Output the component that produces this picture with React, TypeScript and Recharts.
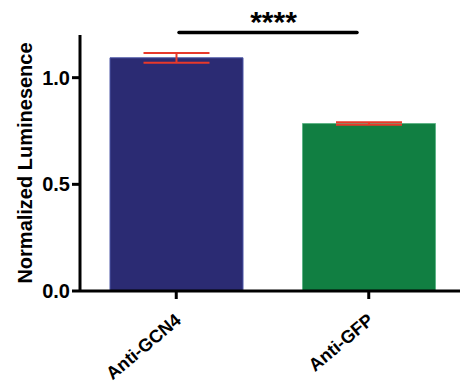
import { BarChart, Bar, XAxis, YAxis, ErrorBar, Cell } from 'recharts';

const groups = ['Anti-GCN4', 'Anti-GFP'];
const means = [1.093, 0.785];
const sems = [0.023, 0.006];
const yTicks = [0, 0.5, 1.0];
const barColors = ['#2b2b73', '#117f42'];
const barEdges = ['#4d56a6', '#5fb487'];

const data = groups.map((g, i) => ({ name: g, value: means[i], err: sems[i] }));

const font = 'Arial, "Liberation Sans", Helvetica, sans-serif';

function GroupTick({ x, y, payload }: any) {
  return (
    <g transform={`translate(${x + 6},${y + 21})`}>
      <text x={0} y={0} textAnchor="end" transform="rotate(-40)"
        fontFamily={font} fontWeight="bold" fontSize={18} fill="#000">
        {payload.value}
      </text>
    </g>
  );
}

export default function App() {
  return (
    <div style={{ position: 'absolute', left: 0, top: 0, width: 460, height: 389, overflow: 'hidden', background: '#fff' }}>
      <BarChart width={466} height={389} data={data}
        margin={{ top: 35, right: 1, left: 0, bottom: 0 }}>
        <XAxis dataKey="name" height={98} tick={<GroupTick />}
          axisLine={{ stroke: '#000', strokeWidth: 3 }}
          tickLine={{ stroke: '#000', strokeWidth: 3 }} tickSize={8} />
        <YAxis width={80} domain={[0, 1.2]} ticks={yTicks} tickSize={8}
          tickFormatter={(v: number) => v.toFixed(1)}
          axisLine={{ stroke: '#000', strokeWidth: 3 }}
          tickLine={{ stroke: '#000', strokeWidth: 3 }}
          tick={{ fill: '#000', fontFamily: font, fontWeight: 'bold', fontSize: 20 }} />
        <Bar dataKey="value" barSize={133} isAnimationActive={false}>
          {data.map((d, i) => (
            <Cell key={d.name} fill={barColors[i]} stroke={barEdges[i]} strokeWidth={1} />
          ))}
          <ErrorBar dataKey="err" width={33} stroke="#e8392b" strokeWidth={2} isAnimationActive={false} />
        </Bar>
        <text x={32} y={163} transform="rotate(-90, 32, 163)" textAnchor="middle"
          fontFamily={font} fontWeight="bold" fontSize={20} fill="#000">
          Normalized Luminesence
        </text>
        <line x1={179} y1={32.5} x2={357} y2={32.5} stroke="#000" strokeWidth={3.5} strokeLinecap="round" />
        <text x={273.5} y={32} textAnchor="middle" fontFamily={font} fontWeight="bold" fontSize={30} fill="#000">
          ****
        </text>
      </BarChart>
    </div>
  );
}
